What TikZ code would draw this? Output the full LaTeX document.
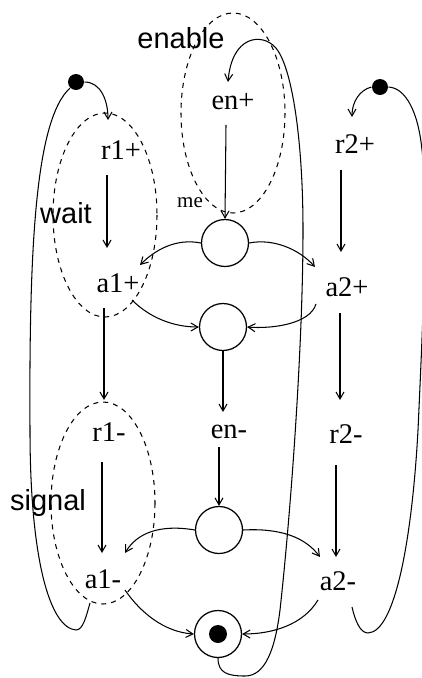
\documentclass[tikz,border=0pt]{standalone}
\usepackage{fontspec}
\setmainfont{Liberation Serif}
\newfontfamily\labsans{Liberation Sans}
\usetikzlibrary{arrows.meta}
\begin{document}
\begin{tikzpicture}[x=1pt,y=-1pt,
  line width=1.05pt,
  arr/.style={-{Straight Barb[length=7pt,width=8pt]}},
  place/.style={circle,draw,line width=1.25pt,minimum size=47pt,inner sep=0pt},
  token/.style={circle,fill,minimum size=16pt,inner sep=0pt},
  trans/.style={anchor=base,inner sep=0pt,font=\fontsize{28.5}{30}\selectfont},
  lab/.style={anchor=base,inner sep=0pt,font=\labsans\fontsize{29}{31}\selectfont},
  grp/.style={dash pattern=on 5pt off 5pt,line width=1.05pt}]
\useasboundingbox (0,0) rectangle (421,678);

% transitions
\node[trans] (enp) at (233,109) {en+};
\node[trans] (r1p) at (121,159) {r1+};
\node[trans] (r2p) at (355,153) {r2+};
\node[trans,font=\fontsize{21}{22}\selectfont] (me) at (190,207) {me};
\node[trans] (a1p) at (118,292) {a1+};
\node[trans] (a2p) at (347,296) {a2+};
\node[trans] (enm) at (229,438) {en-};
\node[trans] (r1m) at (109,441) {r1-};
\node[trans] (r2m) at (346,443) {r2-};
\node[trans] (a1m) at (103,588) {a1-};
\node[trans] (a2m) at (338,590) {a2-};

% group labels
\node[lab] (enable) at (181,48) {enable};
\node[lab] (wait) at (66,223) {wait};
\node[lab] (signal) at (48,510) {signal};

% places
\node[place] (c1) at (225,243) {};
\node[place] (c2) at (223,327) {};
\node[place] (c3) at (219,530) {};
\node[place] (c4) at (218,634) {};
\node[token,minimum size=18pt] (dot4) at (c4) {};
\node[token] (tokL) at (76,82) {};
\node[token] (tokR) at (380,87) {};

% dashed groups
\draw[grp] (233,113) ellipse [x radius=52, y radius=100];
\draw[grp] (105,215) ellipse [x radius=52, y radius=102];
\draw[grp] (103,503) ellipse [x radius=52, y radius=101];

% straight arcs
\draw[arr] ([shift={(-14,16)}]r1p.base) -- ([shift={(-11,-44)}]a1p.base);
\draw[arr] ([shift={(-14,16)}]a1p.base) -- ([shift={(-5,-41)}]r1m.base);
\draw[arr] ([shift={(-7,21)}]r1m.base) -- ([shift={(-1,-35)}]a1m.base);
\draw[arr] ([shift={(-14,17)}]r2p.base) -- ([shift={(-6,-44)}]a2p.base);
\draw[arr] ([shift={(-7,17)}]a2p.base) -- ([shift={(-6,-43)}]r2m.base);
\draw[arr] ([shift={(-10,22)}]r2m.base) -- ([shift={(-2,-33)}]a2m.base);
\draw[arr] ([shift={(-7,16)}]enp.base) -- (c1.north);
\draw[arr] (c2.south) -- ([shift={(-6,-26)}]enm.base);
\draw[arr] ([shift={(-10,9)}]enm.base) -- (c3.north);

% curved arcs
\draw[arr] (c1.west) .. controls +(-25,-5) and +(15,-15) .. ([shift={(22,-27)}]a1p.base);
\draw[arr] (c1.east) .. controls +(25,-5) and +(-15,-17) .. ([shift={(-32,-29)}]a2p.base);
\draw[arr] ([shift={(14,8)}]a1p.base) .. controls +(18,18) and +(-25,0) .. (c2.west);
\draw[arr] ([shift={(-31,8)}]a2p.base) .. controls +(-6,20) and +(25,2) .. (c2.east);
\draw[arr] (c3.west) .. controls +(-35,-6) and +(12,-20) .. ([shift={(22,-35)}]a1m.base);
\draw[arr] (c3.east) .. controls +(37,-2) and +(-15,-20) .. ([shift={(-18,-33)}]a2m.base);
\draw[arr] ([shift={(22,2)}]a1m.base) .. controls +(15,22) and +(-30,-2) .. (c4.west);
\draw[arr] ([shift={(-20,10)}]a2m.base) .. controls +(-15,25) and +(30,0) .. (c4.east);

% token places to r+
\draw[arr] (tokL.east) .. controls +(16,0) and +(0,-20) .. ([shift={(-13,-39)}]r1p.base);
\draw[arr] (tokR.west) .. controls +(-12,3) and +(0,-15) .. ([shift={(-3,-36)}]r2p.base);

% long loops
\draw ([shift={(-13,15)}]a1m.base) .. controls (86,617) and (83,630) .. (76,630)
  .. controls (50,628) and (30,560) .. (30,430)
  .. controls (29,250) and (35,120) .. (tokL.south west);
\draw ([shift={(14,17)}]a2m.base) .. controls (355,620) and (360,633) .. (368,633)
  .. controls (395,632) and (412,540) .. (418,430)
  .. controls (424,300) and (428,200) .. (422,150)
  .. controls (418,110) and (405,88) .. (tokR.east);
\draw[arr] (c4.south) .. controls +(0,15) and +(-17,0) .. (245,676)
  .. controls (265,676) and (275,650) .. (280,610)
  .. controls (290,520) and (303,350) .. (303,230)
  .. controls (303,140) and (292,65) .. (275,47)
  .. controls (262,33) and (232,35) .. ([shift={(-5,-27)}]enp.base);
\end{tikzpicture}
\end{document}
